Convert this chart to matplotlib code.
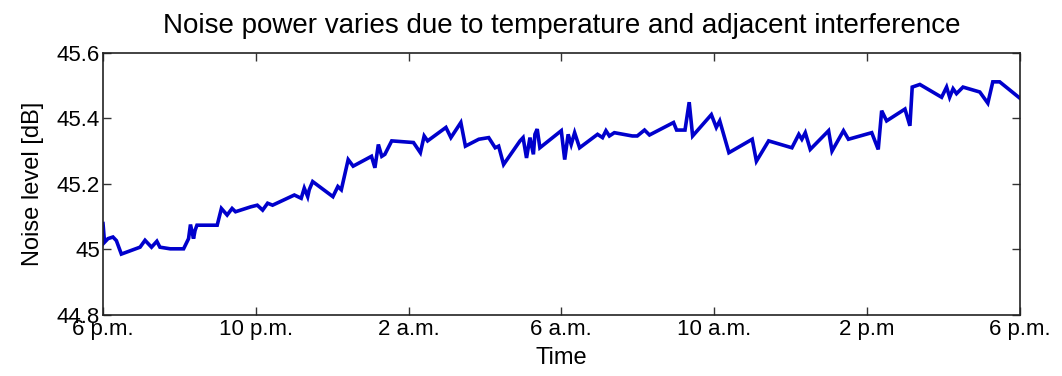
import matplotlib
matplotlib.use('Agg')
import matplotlib.pyplot as plt
import numpy as np

hours = [0.00, 0.04, 0.13, 0.26, 0.35, 0.48, 0.97, 1.10, 1.27, 1.41, 1.49, 1.76,
         2.11, 2.24, 2.29, 2.37, 2.41, 2.46, 2.99, 3.10, 3.25, 3.38, 3.47, 3.87,
         4.04, 4.18, 4.31, 4.44, 5.01, 5.19, 5.27, 5.36, 5.40, 5.49, 6.02, 6.15,
         6.24, 6.42, 6.55, 7.03, 7.12, 7.21, 7.30, 7.38, 7.56, 8.13, 8.31, 8.41,
         8.50, 8.98, 9.11, 9.37, 9.49, 9.84, 10.10, 10.27, 10.36, 10.49, 10.92,
         11.00, 11.09, 11.18, 11.27, 11.31, 11.37, 11.44, 12.00, 12.09, 12.18,
         12.26, 12.35, 12.48, 12.95, 13.08, 13.17, 13.26, 13.39, 13.86, 13.99,
         14.18, 14.31, 14.94, 15.02, 15.24, 15.35, 15.44, 15.93, 16.06, 16.15,
         16.39, 17.00, 17.11, 17.43, 18.04, 18.22, 18.30, 18.39, 18.52, 19.00,
         19.09, 19.39, 19.52, 20.13, 20.30, 20.39, 20.52, 21.00, 21.13, 21.19,
         21.39, 21.96, 22.09, 22.17, 22.26, 22.35, 22.52, 22.96, 23.17, 23.30,
         23.48, 24.00]
noise_db = [45.079, 45.022, 45.033, 45.038, 45.027, 44.986, 45.007, 45.028, 45.007,
            45.025, 45.007, 45.002, 45.002, 45.033, 45.076, 45.033, 45.058, 45.074,
            45.074, 45.125, 45.105, 45.125, 45.115, 45.130, 45.135, 45.120, 45.141,
            45.135, 45.166, 45.156, 45.187, 45.161, 45.182, 45.207, 45.161, 45.192,
            45.182, 45.274, 45.254, 45.284, 45.249, 45.320, 45.284, 45.290, 45.331,
            45.326, 45.295, 45.346, 45.331, 45.372, 45.341, 45.387, 45.315, 45.336,
            45.341, 45.310, 45.315, 45.259, 45.331, 45.341, 45.279, 45.341, 45.290,
            45.351, 45.367, 45.310, 45.362, 45.274, 45.351, 45.320, 45.356, 45.310,
            45.351, 45.341, 45.362, 45.346, 45.356, 45.346, 45.346, 45.364, 45.349,
            45.387, 45.364, 45.364, 45.449, 45.346, 45.411, 45.372, 45.392, 45.295,
            45.336, 45.269, 45.331, 45.310, 45.351, 45.336, 45.356, 45.305, 45.362,
            45.300, 45.362, 45.336, 45.356, 45.305, 45.423, 45.392, 45.428, 45.377,
            45.495, 45.503, 45.464, 45.495, 45.464, 45.490, 45.475, 45.495, 45.480,
            45.446, 45.511, 45.511, 45.462]

tick_hours = [0, 4, 8, 12, 16, 20, 24]
tick_labels = ['6 p.m.', '10 p.m.', '2 a.m.', '6 a.m.', '10 a.m.', '2 p.m', '6 p.m.']
y_ticks = [44.8, 45.0, 45.2, 45.4, 45.6]
y_labels = ['44.8', '45', '45.2', '45.4', '45.6']

plt.rcParams['font.family'] = ['Liberation Sans', 'DejaVu Sans']

fig = plt.figure(figsize=(10.62, 3.76), dpi=100)
ax = fig.add_axes([0.097, 0.162, 0.863, 0.698])

ax.plot(hours, noise_db, color='#0000cc', linewidth=2.6, solid_joinstyle='miter')

ax.set_xlim(0, 24)
ax.set_ylim(44.8, 45.6)
ax.set_xticks(tick_hours)
ax.set_xticklabels(tick_labels)
ax.set_yticks(y_ticks)
ax.set_yticklabels(y_labels)

ax.tick_params(direction='in', length=6, width=1, color='#333333',
               top=True, right=True, labelsize=16)
ax.tick_params(axis='x', pad=3)
ax.tick_params(axis='y', pad=2)
for s in ax.spines.values():
    s.set_linewidth(1.2)
    s.set_color('#222222')

ax.set_title('Noise power varies due to temperature and adjacent interference',
             fontsize=20, pad=14)
ax.set_xlabel('Time', fontsize=17, labelpad=5)
ax.set_ylabel('Noise level [dB]', fontsize=17, labelpad=9)

plt.savefig('out.png', dpi=100)
